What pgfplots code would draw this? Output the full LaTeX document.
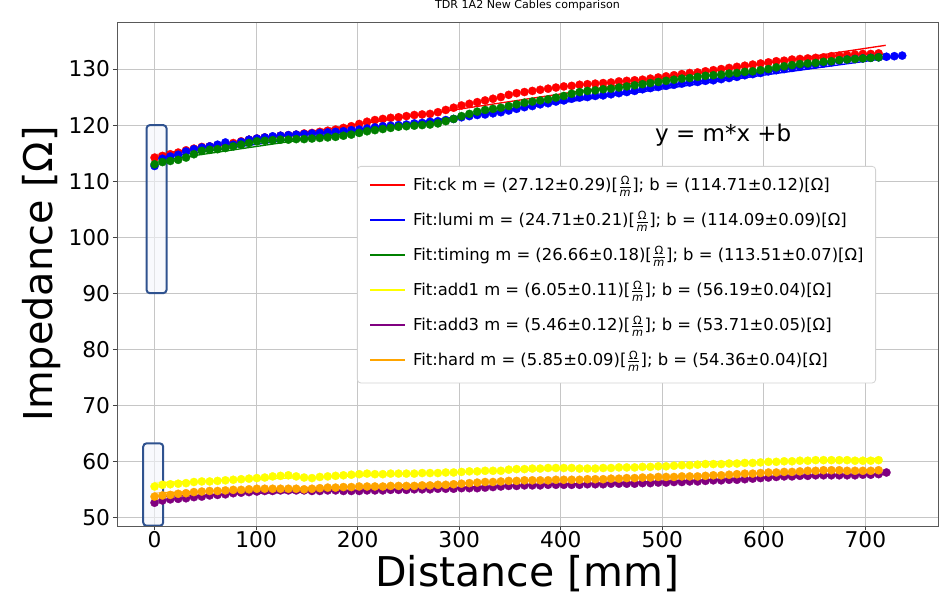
\documentclass[border=0pt]{standalone}
\usepackage{pgfplots}
\pgfplotsset{compat=1.18}
\usepackage{pgfplotstable}
\usepackage{fontspec}
\setmainfont{DejaVu Sans}
\definecolor{mplred}{rgb}{1,0,0}
\definecolor{mplblue}{rgb}{0,0,1}
\definecolor{mplgreen}{rgb}{0,0.5,0}
\definecolor{mplyellow}{rgb}{1,1,0}
\definecolor{mplpurple}{rgb}{0.5,0,0.5}
\definecolor{mplorange}{rgb}{1,0.647,0}
\definecolor{boxedge}{HTML}{2F528F}
\definecolor{boxfill}{HTML}{F3F5FB}
\newcommand{\Om}{$\frac{\mbox{\fontsize{8.5}{9}\selectfont Ω}}{\mbox{\fontsize{8.5}{9}\selectfont\itshape m}}$}

\pgfplotstableread{
x ck lumi timing add1 add3 hard
0 114.2 112.7 113.0 55.5 52.6 53.7
7.75 114.5 114.0 113.4 55.8 53.0 53.9
15.5 114.8 114.4 113.6 55.9 53.2 54.0
23.25 115.1 114.7 113.8 56.0 53.3 54.2
31 115.5 115.3 114.2 56.1 53.4 54.3
38.75 115.8 115.7 114.8 56.3 53.6 54.5
46.5 116.1 116.0 115.4 56.4 53.7 54.6
54.25 116.2 116.2 115.6 56.4 53.9 54.7
62 116.4 116.5 115.7 56.5 54.0 54.7
69.75 116.6 116.9 115.9 56.6 54.1 54.8
77.5 116.8 116.5 116.2 56.7 54.3 54.9
85.25 117.1 117.0 116.5 56.8 54.4 54.9
93 117.4 117.4 116.8 56.9 54.5 55.0
100.75 117.6 117.6 117.1 57.0 54.6 55.1
108.5 117.8 117.8 117.2 57.1 54.7 55.1
116.25 117.9 118.0 117.3 57.3 54.7 55.1
124 118.1 118.1 117.4 57.4 54.8 55.1
131.75 118.2 118.2 117.4 57.5 54.8 55.1
139.5 118.3 118.3 117.5 57.3 54.8 55.1
147.25 118.5 118.4 117.5 57.1 54.8 55.0
155 118.6 118.5 117.6 57.0 54.7 55.1
162.75 118.8 118.6 117.7 57.2 54.7 55.2
170.5 119.0 118.7 117.8 57.3 54.8 55.3
178.25 119.2 118.8 117.9 57.4 54.8 55.3
186 119.5 118.9 118.1 57.5 54.7 55.4
193.75 119.8 119.1 118.3 57.6 54.7 55.4
201.5 120.2 119.2 118.6 57.7 54.7 55.5
209.25 120.6 119.4 118.9 57.8 54.8 55.5
217 120.9 119.6 119.1 57.7 54.8 55.5
224.75 121.1 119.8 119.3 57.7 54.8 55.5
232.5 121.3 119.9 119.5 57.8 54.9 55.6
240.25 121.4 120.0 119.7 57.8 54.9 55.6
248 121.6 120.1 119.8 57.8 54.9 55.6
255.75 121.8 120.3 119.9 57.8 55.0 55.6
263.5 121.9 120.4 120.0 57.9 55.0 55.7
271.25 122.0 120.6 120.1 57.9 55.0 55.7
279 122.3 120.7 120.3 57.9 55.1 55.8
286.75 122.7 120.9 120.7 58.0 55.1 55.8
294.5 123.1 121.1 121.1 58.0 55.1 55.9
302.25 123.5 121.4 121.6 58.1 55.2 56.0
310 123.8 121.6 122.0 58.2 55.2 56.1
317.75 124.1 121.8 122.4 58.2 55.2 56.2
325.5 124.4 121.9 122.7 58.3 55.3 56.3
333.25 124.7 122.1 122.9 58.3 55.4 56.3
341 125.0 122.3 123.1 58.3 55.5 56.4
348.75 125.4 122.6 123.4 58.5 55.6 56.5
356.5 125.7 122.9 123.7 58.6 55.6 56.5
364.25 125.9 123.2 124.0 58.6 55.7 56.6
372 126.1 123.4 124.2 58.7 55.7 56.6
379.75 126.3 123.7 124.4 58.7 55.7 56.6
387.5 126.5 123.9 124.6 58.8 55.8 56.6
395.25 126.7 124.2 124.9 58.8 55.8 56.7
403 126.9 124.4 125.2 58.8 55.8 56.7
410.75 127.0 124.7 125.6 58.8 55.8 56.7
418.5 127.2 124.9 125.9 58.7 55.8 56.7
426.25 127.3 125.0 126.1 58.7 55.9 56.8
434 127.4 125.2 126.2 58.7 55.9 56.8
441.75 127.5 125.3 126.4 58.8 55.9 56.8
449.5 127.6 125.5 126.5 58.8 56.0 56.9
457.25 127.8 125.7 126.7 58.9 56.0 56.9
465 127.9 125.9 126.9 58.9 56.0 57.0
472.75 128.0 126.1 127.1 58.9 56.0 57.0
480.5 128.1 126.4 127.3 59.0 56.1 57.1
488.25 128.3 126.6 127.5 59.0 56.1 57.1
496 128.5 126.8 127.7 59.1 56.2 57.2
503.75 128.7 127.0 127.9 59.1 56.2 57.2
511.5 128.9 127.2 128.1 59.2 56.3 57.2
519.25 129.1 127.4 128.3 59.3 56.3 57.3
527 129.3 127.6 128.4 59.3 56.4 57.3
534.75 129.4 127.7 128.6 59.4 56.4 57.3
542.5 129.6 127.9 128.8 59.5 56.5 57.4
550.25 129.8 128.0 128.9 59.5 56.6 57.5
558 130.0 128.2 129.0 59.5 56.6 57.5
565.75 130.2 128.4 129.2 59.6 56.7 57.6
573.5 130.4 128.6 129.3 59.6 56.7 57.7
581.25 130.6 128.9 129.5 59.7 56.8 57.8
589 130.8 129.1 129.6 59.7 56.9 57.8
596.75 131.0 129.3 129.8 59.8 57.0 57.9
604.5 131.2 129.6 130.0 59.9 57.1 58.0
612.25 131.4 129.8 130.3 59.9 57.2 58.0
620 131.5 130.0 130.5 60.0 57.3 58.1
627.75 131.7 130.2 130.7 60.0 57.3 58.1
635.5 131.8 130.4 130.9 60.1 57.4 58.2
643.25 131.9 130.6 131.0 60.1 57.4 58.3
651 132.0 130.8 131.1 60.2 57.5 58.3
658.75 132.1 131.0 131.3 60.2 57.5 58.4
666.5 132.3 131.2 131.4 60.2 57.5 58.4
674.25 132.4 131.5 131.6 60.2 57.5 58.4
682 132.5 131.7 131.7 60.2 57.5 58.3
689.75 132.6 131.8 131.8 60.1 57.5 58.3
697.5 132.7 131.9 131.9 60.1 57.6 58.3
705.25 132.7 132.0 132.0 60.1 57.6 58.3
713 132.8 132.1 132.1 60.2 57.7 58.4
720.75 nan 132.2 nan nan 58.0 nan
728.5 nan 132.3 nan nan nan nan
736.25 nan 132.4 nan nan nan nan
}\data

\begin{document}
\begin{tikzpicture}
\begin{axis}[
  at={(0pt,0pt)}, anchor=south west,
  scale only axis, width=615.75pt, height=378pt,
  xmin=-37, xmax=771.5, ymin=48.45, ymax=138.4,
  xtick={0,100,...,700}, ytick={50,60,...,130},
  grid=major, major grid style={gray!45, line width=0.6pt},
  tick align=outside, tick pos=left, major tick length=3pt,
  major tick style={black!75, line width=0.6pt},
  axis line style={black!65, line width=0.6pt},
  /pgf/number format/assume math mode=true,
  tick label style={font=\fontsize{16.3}{19}\selectfont},
  xticklabel style={anchor=base, yshift=-13.5pt},
  yticklabel style={anchor=east, inner sep=0pt, xshift=-2pt},
  xlabel={Distance [mm]}, ylabel={Impedance [Ω]},
  xlabel style={font=\fontsize{30.75}{36}\selectfont, at={(axis description cs:0.5,-0.1210)}, anchor=base},
  ylabel style={font=\fontsize{29.8}{35}\selectfont, at={(axis description cs:-0.0780,0.5)}, anchor=base},
  title={TDR 1A2 New Cables comparison},
  title style={font=\fontsize{8.3}{10}\selectfont, at={(axis description cs:0.5,1.0109)}, anchor=base},
  legend cell align=left,
  legend style={at={(axis description cs:0.2923,0.7143)}, anchor=north west,
    font=\fontsize{12.3}{14}\selectfont, draw=gray!35, line width=0.6pt,
    rounded corners=2.5pt, fill=white,
    inner xsep=9pt, inner ysep=2.6pt, row sep=0pt, column sep=5.25pt,
    nodes={inner sep=0pt, text height=15.8pt, text depth=10.4pt}},
  legend image code/.code={\draw[#1,line width=1.5pt,sharp corners] (0pt,1.5pt) -- (26pt,1.5pt);},
]
\addplot[only marks, mark=*, mark size=3.1pt, color=mplred, mark options={solid, fill=mplred, draw=mplred, line width=0.2pt}, forget plot] table[x=x,y=ck]{\data};
\addplot[color=mplred, line width=1pt] coordinates {(0,114.71) (720,134.24)};
\addlegendentry{Fit:ck m = (27.12±0.29)[\Om]; b = (114.71±0.12)[Ω]}
\addplot[only marks, mark=*, mark size=3.1pt, color=mplblue, mark options={solid, fill=mplblue, draw=mplblue, line width=0.2pt}, forget plot] table[x=x,y=lumi]{\data};
\addplot[color=mplblue, line width=1pt] coordinates {(0,114.09) (736,132.28)};
\addlegendentry{Fit:lumi m = (24.71±0.21)[\Om]; b = (114.09±0.09)[Ω]}
\addplot[only marks, mark=*, mark size=3.1pt, color=mplgreen, mark options={solid, fill=mplgreen, draw=mplgreen, line width=0.2pt}, forget plot] table[x=x,y=timing]{\data};
\addplot[color=mplgreen, line width=1pt] coordinates {(0,113.51) (720,132.71)};
\addlegendentry{Fit:timing m = (26.66±0.18)[\Om]; b = (113.51±0.07)[Ω]}
\addplot[only marks, mark=*, mark size=3.1pt, color=mplyellow, mark options={solid, fill=mplyellow, draw=mplyellow, line width=0.2pt}, forget plot] table[x=x,y=add1]{\data};
\addplot[color=mplyellow, line width=1pt] coordinates {(0,56.19) (716,60.52)};
\addlegendentry{Fit:add1 m = (6.05±0.11)[\Om]; b = (56.19±0.04)[Ω]}
\addplot[only marks, mark=*, mark size=3.1pt, color=mplpurple, mark options={solid, fill=mplpurple, draw=mplpurple, line width=0.2pt}, forget plot] table[x=x,y=add3]{\data};
\addplot[color=mplpurple, line width=1pt] coordinates {(0,53.71) (721,57.65)};
\addlegendentry{Fit:add3 m = (5.46±0.12)[\Om]; b = (53.71±0.05)[Ω]}
\addplot[only marks, mark=*, mark size=3.1pt, color=mplorange, mark options={solid, fill=mplorange, draw=mplorange, line width=0.2pt}, forget plot] table[x=x,y=hard]{\data};
\addplot[color=mplorange, line width=1pt] coordinates {(0,54.36) (716,58.55)};
\addlegendentry{Fit:hard m = (5.85±0.09)[\Om]; b = (54.36±0.04)[Ω]}
\draw[draw=boxedge, line width=1.5pt, fill=boxfill, fill opacity=0.6, rounded corners=2.5pt] (axis cs:-7.9,90) rectangle (axis cs:11.8,120);
\draw[draw=boxedge, line width=1.5pt, fill=boxfill, fill opacity=0.6, rounded corners=2.5pt] (axis cs:-11.2,48.5) rectangle (axis cs:8.5,63.2);
\node[font=\fontsize{17.25}{20}\selectfont] at (axis cs:560,118.2) {y = m*x +b};
\end{axis}
\pgfresetboundingbox
\path[use as bounding box] (-87.75pt,-51.75pt) rectangle (616.5pt,394.5pt);
\end{tikzpicture}
\end{document}
